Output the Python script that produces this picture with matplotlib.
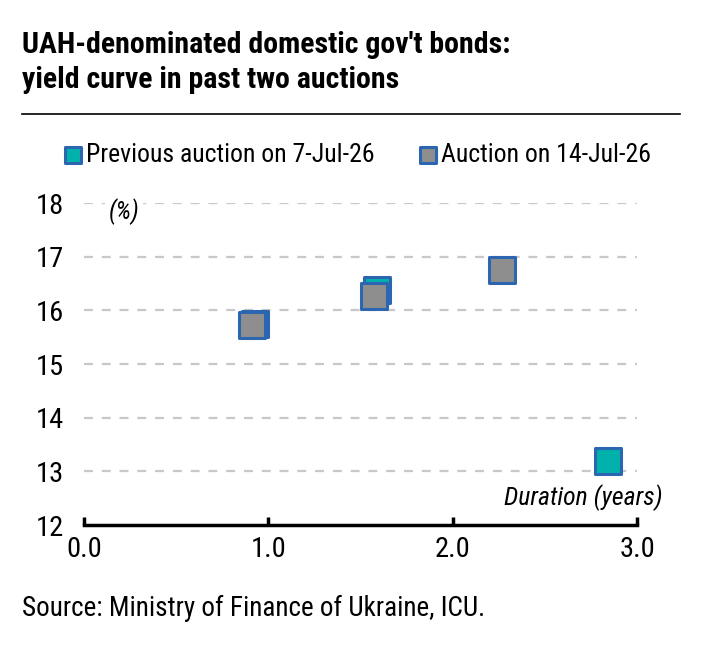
import matplotlib
matplotlib.use("Agg")
import matplotlib.pyplot as plt
from matplotlib import font_manager as fm

names = {f.name for f in fm.fontManager.ttflist}
FAM = [n for n in ["Roboto Condensed", "Archivo Narrow", "Liberation Sans"] if n in names][:1] + ["DejaVu Sans"]
plt.rcParams["font.family"] = FAM

title_lines = ["UAH-denominated domestic gov't bonds:", "yield curve in past two auctions"]
prev_label = "Previous auction on 7-Jul-26"
curr_label = "Auction on 14-Jul-26"
prev_duration = [0.93, 1.59, 2.84]
prev_yield = [15.75, 16.38, 13.20]
curr_duration = [0.91, 1.575, 2.27]
curr_yield = [15.73, 16.26, 16.76]
y_ticks = [12, 13, 14, 15, 16, 17, 18]
x_ticks = [0.0, 1.0, 2.0, 3.0]

TEAL = "#00b2ab"
GRAY = "#8e8e8e"
EDGE = "#2d66b0"

fig = plt.figure(figsize=(7.04, 6.51), dpi=100)
ax = fig.add_axes([0.119, 0.1935, 0.786, 0.4945])

ax.scatter(prev_duration, prev_yield, marker="s", s=330, facecolor=TEAL,
           edgecolor=EDGE, linewidth=2.2, zorder=3, clip_on=False, label=prev_label)
ax.scatter(curr_duration, curr_yield, marker="s", s=330, facecolor=GRAY,
           edgecolor=EDGE, linewidth=2.2, zorder=4, clip_on=False, label=curr_label)

ax.set_xlim(0, 3)
ax.set_ylim(12, 18)
ax.set_xticks(x_ticks)
ax.set_xticklabels([f"{v:.1f}" for v in x_ticks])
ax.set_yticks(y_ticks)
ax.set_yticklabels([str(v) for v in y_ticks])
for y in y_ticks[1:]:
    ax.axhline(y, color="#c8c8c8", lw=1.6, ls=(0, (4, 4)), zorder=1)

for s in ["left", "right", "top"]:
    ax.spines[s].set_visible(False)
ax.spines["bottom"].set_linewidth(2.5)
ax.spines["bottom"].set_color("black")
ax.tick_params(axis="x", direction="in", length=6, width=2.5, labelsize=20.5, pad=8)
ax.tick_params(axis="y", length=0, labelsize=20.5, pad=14)

ax.text(0.135, 17.85, "(%)", style="italic", fontsize=18, ha="left", va="center",
        zorder=2, bbox=dict(boxstyle="square,pad=0.15", fc="white", ec="none"))
ax.text(3.14, 12.52, "Duration (years)", style="italic", fontsize=18.5, ha="right",
        va="center", clip_on=False)

fig.text(0.031, 1 - 53 / 651, title_lines[0], fontsize=21.5, fontweight="bold",
         ha="left", va="baseline")
fig.text(0.031, 1 - 88 / 651, title_lines[1], fontsize=21.5, fontweight="bold",
         ha="left", va="baseline")
fig.add_artist(plt.Line2D([0.031, 0.966], [1 - 114 / 651, 1 - 114 / 651], color="black", lw=1.2))

leg = fig.legend(loc="center", bbox_to_anchor=(0.505, 0.762), ncol=2, frameon=False,
                 fontsize=18.5, handletextpad=0.0, columnspacing=1.6, markerscale=0.6,
                 handlelength=1.0, borderaxespad=0)

fig.text(0.031, 1 - 608 / 651, "Source: Ministry of Finance of Ukraine, ICU.", fontsize=19.5,
         ha="left", va="center")

fig.savefig("out.png", dpi=100)
